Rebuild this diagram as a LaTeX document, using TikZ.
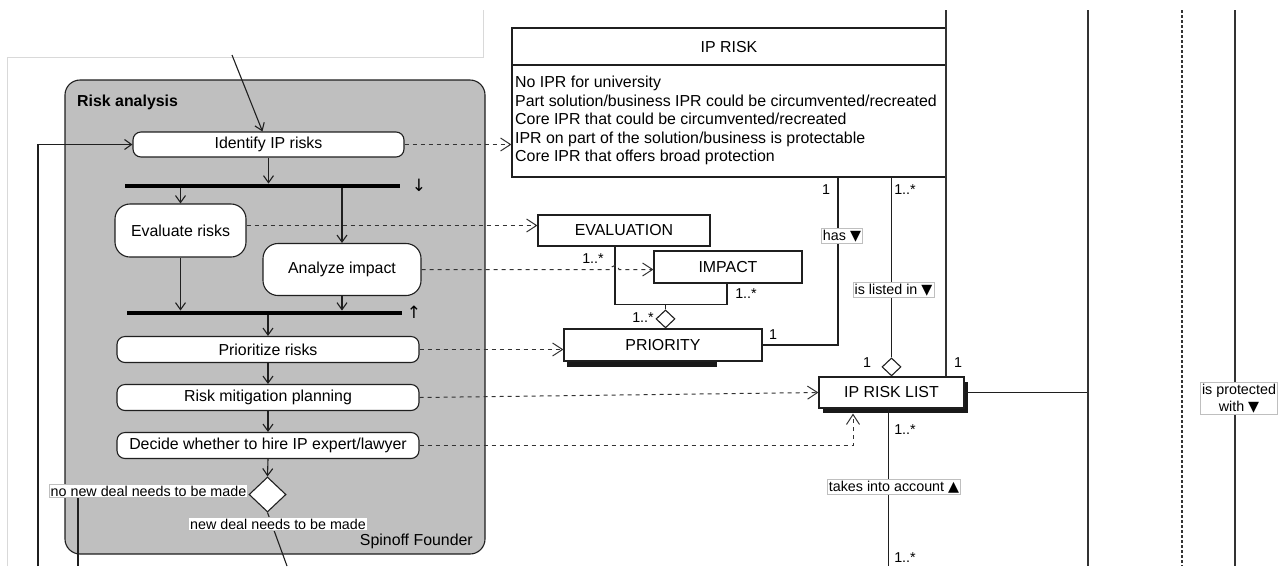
\documentclass[tikz,border=0pt]{standalone}
\usepackage{fontspec}
\setmainfont{Liberation Sans}
\newfontfamily\symfont{DejaVu Sans}
\usetikzlibrary{arrows.meta,shapes.geometric,shadows,calc}

\newcommand\mainsize{\fontsize{15.9}{18.4}\selectfont}
\newcommand\lblsize{\fontsize{14.3}{16.5}\selectfont}
\newcommand\barmarksize{\fontsize{17}{17}\selectfont}

\tikzset{
  base/.style={line width=1.1pt, draw=black!88},
  flow/.style={base, -{Straight Barb[length=7pt,width=10pt]}},
  dep/.style={line width=1pt, draw=black!80, dash pattern=on 4pt off 4pt, -{Straight Barb[length=10pt,width=13pt]}},
  action/.style={draw=black!88, line width=1.1pt, fill=white, rounded corners=8pt,
    inner sep=0pt, font=\mainsize},
  classbox/.style={draw=black!88, line width=1.1pt, fill=white, inner sep=0pt, font=\mainsize},
  syncbar/.style={fill=black, inner sep=0pt, minimum height=4.5pt},
  tag/.style={fill=white, draw=black!25, line width=0.6pt, inner sep=1.5pt, font=\lblsize},
  mult/.style={inner sep=0pt, font=\lblsize},
  decision/.style={diamond, draw=black!88, line width=1.1pt, fill=white, inner sep=0pt},
  swimlane/.style={draw=black!88, line width=1.1pt, fill=black!25, rounded corners=15pt, inner sep=0pt},
  lifeline/.style={line width=1.3pt, draw=black!80},
}

\begin{document}
\begin{tikzpicture}[x=1pt,y=-1pt]
\useasboundingbox (0,0) rectangle (1287,566);

% outer page frame
\draw[black!15, line width=0.8pt] (7,566) -- (7,57) -- (483,57) -- (483,10);

% ---------- activity: Risk analysis ----------
\node[swimlane, minimum width=420pt, minimum height=474pt] (lane) at (275,317) {};
\node[anchor=west, font=\bfseries\mainsize, inner sep=0pt] (lanetitle) at (77,102) {Risk analysis};
\node[anchor=east, font=\mainsize, inner sep=0pt] (laneowner) at (473,541) {Spinoff Founder};

\node[action, minimum width=271pt, minimum height=25pt] (identify) at (268.5,144.5) {Identify IP risks};
\node[syncbar, minimum width=275pt] (fork) at (262.5,186) {};
\node[font=\symfont\barmarksize, inner sep=0pt] (forkmark) at (419,185) {↓};
\node[action, rounded corners=15pt, minimum width=131pt, minimum height=53pt] (evaluate) at (180.5,230.5) {Evaluate risks};
\node[action, rounded corners=15pt, minimum width=158pt, minimum height=52pt] (analyze) at (342,269.5) {Analyze impact};
\node[syncbar, minimum width=275pt] (join) at (264.5,313) {};
\node[font=\symfont\barmarksize, inner sep=0pt] (joinmark) at (414,312) {↑};
\node[action, minimum width=302pt, minimum height=26pt] (prioritize) at (268,349.5) {Prioritize risks};
\node[action, minimum width=302pt, minimum height=26pt] (mitigate) at (268,397.5) {Risk mitigation planning};
\node[action, minimum width=302pt, minimum height=26pt] (decide) at (268,445.5) {Decide whether to hire IP expert/lawyer};
\node[decision, minimum width=37pt, minimum height=35pt] (choice) at (267.5,494.5) {};

\coordinate (entry) at (232,55);
\coordinate (loopfoot) at (38,566);
\coordinate (nodealfoot) at (78,566);
\coordinate (dealfoot) at (287,566);

\draw[flow] (entry) -- ([xshift=-6pt]identify.north);
\draw[flow] (loopfoot) |- (identify.west);
\draw[flow] (identify.south) -- (identify.south |- fork.north);
\draw[flow] (evaluate.north |- fork.south) -- (evaluate.north);
\draw[flow] (analyze.north |- fork.south) -- (analyze.north);
\draw[flow] (evaluate.south) -- (evaluate.south |- join.north);
\draw[flow] (analyze.south) -- (analyze.south |- join.north);
\draw[flow] (prioritize.north |- join.south) -- (prioritize.north);
\draw[flow] (prioritize.south) -- (mitigate.north);
\draw[flow] (mitigate.south) -- (decide.north);
\draw[flow] (decide.south) -- (choice.north);
\draw[base] (choice.west) -| (nodealfoot);
\draw[base] (choice.south) -- (dealfoot);
\node[tag] (nodeallabel) at (148.5,491) {no new deal needs to be made};
\node[tag] (deallabel) at (278,524) {new deal needs to be made};

% ---------- class: IP RISK ----------
\node[classbox, minimum width=434pt, minimum height=149pt] (iprisk) at (729,102.5) {};
\draw[base] (iprisk.north west |- 0,65) -- (iprisk.north east |- 0,65);
\node[font=\mainsize, inner sep=0pt] (iprisktitle) at (729,47) {IP RISK};
\node[anchor=west, align=left, inner sep=0pt, font=\mainsize] (ipriskattrs) at (515,120.5)
  {No IPR for university\\
   Part solution/business IPR could be circumvented/recreated\\
   Core IPR that could be circumvented/recreated\\
   IPR on part of the solution/business is protectable\\
   Core IPR that offers broad protection};

% ---------- classes: EVALUATION, IMPACT, PRIORITY, IP RISK LIST ----------
\node[classbox, minimum width=172pt, minimum height=31pt] (evaluation) at (624,230.5) {EVALUATION};
\node[classbox, minimum width=148pt, minimum height=32pt] (impact) at (728,267) {IMPACT};
\node[classbox, minimum width=198pt, minimum height=32pt] (priority) at (663,345) {PRIORITY};
\fill[black!90] ([xshift=4pt]priority.south west) rectangle ([xshift=-46pt,yshift=-5pt]priority.south east);
\node[classbox, minimum width=145pt, minimum height=31pt,
  drop shadow={shadow xshift=4pt, shadow yshift=-5pt, opacity=1, fill=black!90}] (risklist) at (891.5,392.5) {IP RISK LIST};

\node[decision, minimum width=19pt, minimum height=18pt, anchor=south] (agg) at ([xshift=2.5pt]priority.north) {};
\node[decision, minimum width=19pt, minimum height=18pt, anchor=south] (listagg) at (risklist.north) {};

% aggregation of evaluation and impact into priority
\draw[base] ([xshift=-9pt]evaluation.south) -- ++(0,58) -| (agg.north);
\draw[base] ([xshift=-1pt]impact.south) -- ++(0,21) -| (agg.north);

% associations
\draw[base] ([xshift=109pt]iprisk.south) |- (priority.east);
\draw[base] ([xshift=162.5pt]iprisk.south) -- (listagg.north);
\coordinate (rightA) at (946,10);
\coordinate (rightB) at (1088,10);
\coordinate (rightBfoot) at (1088,566);
\coordinate (rightC) at (1182,10);
\coordinate (rightCfoot) at (1182,566);
\coordinate (rightD) at (1235,10);
\coordinate (rightDfoot) at (1235,566);
\coordinate (listfoot) at (888.5,566);
\draw[lifeline] (rightA) -- (rightA |- risklist.north);
\draw[base] (risklist.east) -- (risklist.east -| rightB);
\draw[lifeline] (rightB) -- (rightBfoot);
\draw[lifeline, dash pattern=on 3pt off 2pt] (rightC) -- (rightCfoot);
\draw[lifeline] (rightD) -- (rightDfoot);
\draw[base] ([xshift=-3pt]risklist.south) -- (listfoot);

% dependencies from actions to data
\coordinate (hop) at ([xshift=-9pt]evaluation.south |- analyze.east);
\draw[dep] (identify.east) -- (identify.east -| iprisk.west);
\draw[dep] ([yshift=5pt]evaluate.east) -- ([yshift=5pt]evaluate.east -| evaluation.west);
\draw[dep] (analyze.east) -- ([xshift=-4pt]hop) arc[start angle=180, end angle=360, radius=4] -- (hop -| impact.west);
\draw[dep] (prioritize.east) -- (prioritize.east -| priority.west);
\draw[dep] (mitigate.east) -- (risklist.west);
\draw[dep] (decide.east) -| ([xshift=-38.5pt,yshift=-5pt]risklist.south);

% association labels
\node[tag] (haslabel) at (842,236) {has {\symfont ▼}};
\node[tag] (listedlabel) at (893.5,290) {is listed in {\symfont ▼}};
\node[tag] (accountlabel) at (894,487) {takes into account {\symfont ▲}};
\node[tag, align=center] (protectlabel) at (1239,398.5) {is protected\\with {\symfont ▼}};

% multiplicities
\node[mult] (m1) at (593,259) {1..*};
\node[mult] (m2) at (746,294) {1..*};
\node[mult] (m3) at (643,318) {1..*};
\node[mult] (m4) at (773,335) {1};
\node[mult] (m5) at (826,190) {1};
\node[mult] (m6) at (905,190) {1..*};
\node[mult] (m7) at (867,363) {1};
\node[mult] (m8) at (958,363) {1};
\node[mult] (m9) at (905,430) {1..*};
\node[mult] (m10) at (905,558) {1..*};
\end{tikzpicture}
\end{document}
